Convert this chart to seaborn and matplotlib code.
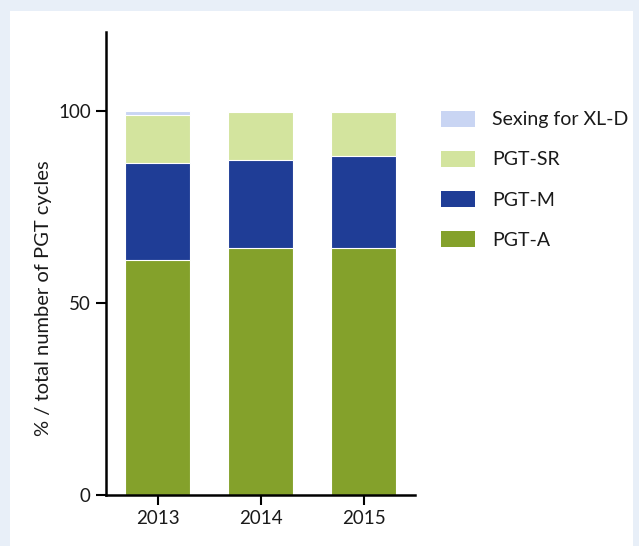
import matplotlib
matplotlib.use("Agg")
import matplotlib.pyplot as plt
import matplotlib.patches as mpatches
import seaborn as sns
import pandas as pd
import numpy as np

years = ["2013", "2014", "2015"]
pgt_a = [61.2, 64.2, 64.2]
pgt_m = [25.2, 23.0, 23.9]
pgt_sr = [12.6, 12.4, 11.5]
sexing = [1.0, 0.4, 0.4]
series_names = ["PGT-A", "PGT-M", "PGT-SR", "Sexing for XL-D"]
colors = ["#84A12B", "#1F3D96", "#D3E49E", "#C9D5F3"]
yticks = [0, 50, 100]

sns.set_style("white")
plt.rcParams['font.family'] = ['Lato', 'DejaVu Sans']

fig = plt.figure(figsize=(6.39, 5.46), dpi=100)
fig.patch.set_facecolor("#E8EFF8")
fig.patches.append(mpatches.Rectangle((10/639, 0), 623/639, 1 - 11/546,
                                      transform=fig.transFigure, facecolor="white",
                                      edgecolor="none", zorder=-1))
ax = fig.add_axes([106/639, 1 - 495/546, (415-106)/639, (495-32)/546])
ax.set_facecolor("none")

series = [pgt_a, pgt_m, pgt_sr, sexing]
cum = np.cumsum(np.array(series), axis=0)
# draw tallest first so lower segments overlay
for i in range(len(series) - 1, -1, -1):
    df = pd.DataFrame({"year": years, "val": cum[i]})
    sns.barplot(data=df, x="year", y="val", color=colors[i], width=0.64,
                edgecolor="white", linewidth=0.8, saturation=1, ax=ax)

ax.set_xlim(-0.5, 2.5)
ax.set_ylim(0, 120.5)
ax.set_yticks(yticks)
ax.set_xlabel("")
ax.set_ylabel("% / total number of PGT cycles", fontsize=14.5, color="#1a1a1a")
ax.yaxis.set_label_coords(-0.175, 0.425)
for s in ["top", "right"]:
    ax.spines[s].set_visible(False)
for s in ["left", "bottom"]:
    ax.spines[s].set_color("black")
    ax.spines[s].set_linewidth(1.8)
ax.tick_params(axis="both", direction="out", length=7, width=1.5, color="black",
               labelsize=13.5, labelcolor="#1a1a1a", left=True, bottom=True, pad=4)

handles = [mpatches.Patch(facecolor=colors[i], edgecolor="none") for i in range(3, -1, -1)]
labels = [series_names[i] for i in range(3, -1, -1)]
fig.legend(handles, labels, loc="upper left", bbox_to_anchor=(423/639, 1 - 93/546),
           frameon=False, fontsize=14, handlelength=1.75, handleheight=0.9,
           labelspacing=1.15, handletextpad=0.9, labelcolor="#1a1a1a")

fig.savefig("out.png", dpi=100, facecolor=fig.get_facecolor())
